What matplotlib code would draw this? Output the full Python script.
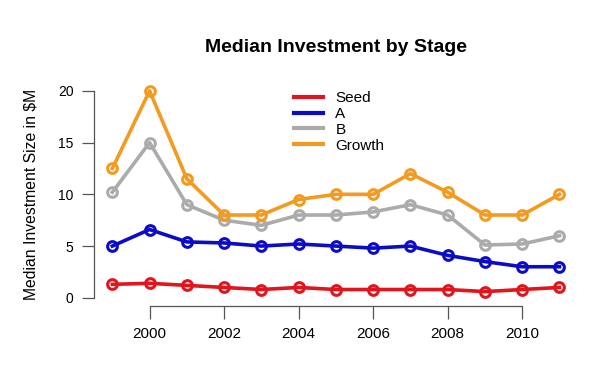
import matplotlib
matplotlib.use("Agg")
import matplotlib.pyplot as plt

plt.rcParams['font.family'] = ['Liberation Sans', 'DejaVu Sans']

years = list(range(1999, 2012))
seed = [1.3, 1.4, 1.2, 1.0, 0.8, 1.0, 0.8, 0.8, 0.8, 0.8, 0.6, 0.8, 1.0]
series_a = [5.0, 6.6, 5.4, 5.3, 5.0, 5.2, 5.0, 4.8, 5.0, 4.1, 3.5, 3.0, 3.0]
series_b = [10.2, 15.0, 9.0, 7.5, 7.0, 8.0, 8.0, 8.3, 9.0, 8.0, 5.1, 5.2, 6.0]
growth = [12.5, 20.0, 11.5, 8.0, 8.0, 9.5, 10.0, 10.0, 12.0, 10.2, 8.0, 8.0, 10.0]

names = ["Seed", "A", "B", "Growth"]
colors = ["#e2141c", "#0c0cc8", "#ababab", "#f29b20"]
xticks = [2000, 2002, 2004, 2006, 2008, 2010]
yticks = [0, 5, 10, 15, 20]

fig = plt.figure(figsize=(5.94, 3.67), dpi=100)
ax = fig.add_axes([0.159, 0.166, 0.813, 0.609])

handles = []
for vals, name, col in zip([seed, series_a, series_b, growth], names, colors):
    ax.plot(years, vals, color=col, lw=2.6, marker='o', ms=7, mfc='none',
            mec=col, mew=2.2, zorder=3)
    h, = ax.plot([], [], color=col, lw=3, label=name)
    handles.append(h)

ax.set_xlim(1998.52, 2011.48)
ax.set_ylim(-0.8, 20.8)

for s in ['top', 'right']:
    ax.spines[s].set_visible(False)
ax.spines['left'].set_bounds(0, 20)
ax.spines['bottom'].set_bounds(2000, 2010)
for s in ['left', 'bottom']:
    ax.spines[s].set_color('#555555')
    ax.spines[s].set_linewidth(0.9)

ax.set_xticks(xticks)
ax.set_yticks(yticks)
ax.tick_params(axis='both', direction='out', length=9, width=0.9, color='#555555',
               labelsize=11, pad=6)
ax.tick_params(axis='y', labelsize=10)

ax.set_ylabel("Median Investment Size in $M", fontsize=11.3, labelpad=14)
fig.suptitle("Median Investment by Stage", fontsize=14, fontweight='bold',
             x=0.565, y=0.895)

fig.legend(handles=handles, loc='upper left', bbox_to_anchor=(0.495, 0.752),
           frameon=False, fontsize=11, handlelength=1.9, handletextpad=0.8,
           labelspacing=0.12, borderpad=0.0, borderaxespad=0.0)

fig.savefig("out.png", dpi=100)
